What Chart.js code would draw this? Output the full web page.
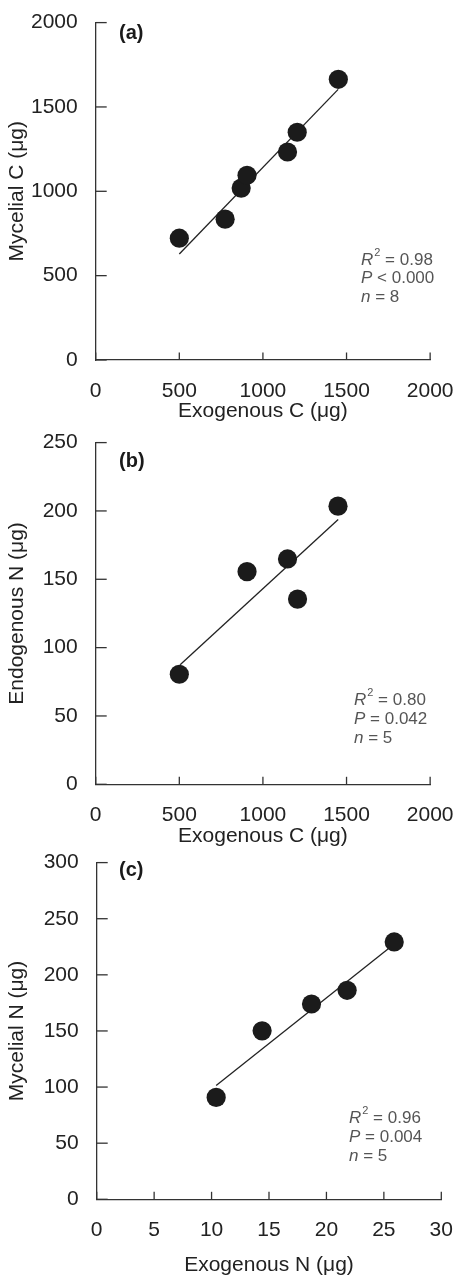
<!DOCTYPE html>
<html><head><meta charset="utf-8">
<script src="https://cdn.jsdelivr.net/npm/chart.js@4.4.1/dist/chart.umd.min.js"></script>
<style>
html,body{margin:0;padding:0;background:#fff;}
#wrap{position:relative;width:464px;height:1278px;overflow:hidden;background:#fff;}
canvas{position:absolute;left:0;}
</style></head><body>
<div id="wrap">
<canvas id="ca" width="464" height="430" style="top:0px"></canvas>
<canvas id="cb" width="464" height="430" style="top:420px"></canvas>
<canvas id="cc" width="464" height="438" style="top:840px"></canvas>
</div>
<script>
// ---- Panel (a): Mycelial C vs Exogenous C ----
const exoC_a = [500, 774, 870, 905, 1147, 1205, 1451];
const mycC_a = [722, 835, 1019, 1095, 1233, 1350, 1664];
const fitA_x = [500, 1450];
const fitA_y = [628, 1604];
const ticksA_x = [0, 500, 1000, 1500, 2000];
const ticksA_y = [0, 500, 1000, 1500, 2000];
const statsA = ['= 0.98', '< 0.000', '= 8'];

// ---- Panel (b): Endogenous N vs Exogenous C ----
const exoC_b = [500, 905, 1147, 1207, 1449];
const endoN_b = [80.5, 155.6, 164.9, 135.5, 203.5];
const fitB_x = [505, 1450];
const fitB_y = [87.5, 193.8];
const ticksB_x = [0, 500, 1000, 1500, 2000];
const ticksB_y = [0, 50, 100, 150, 200, 250];
const statsB = ['= 0.80', '= 0.042', '= 5'];

// ---- Panel (c): Mycelial N vs Exogenous N ----
const exoN_c = [10.4, 14.4, 18.7, 21.8, 25.9];
const mycN_c = [90.8, 150.1, 174.0, 186.2, 229.3];
const fitC_x = [10.4, 25.85];
const fitC_y = [101.3, 227.0];
const ticksC_x = [0, 5, 10, 15, 20, 25, 30];
const ticksC_y = [0, 50, 100, 150, 200, 250, 300];
const statsC = ['= 0.96', '= 0.004', '= 5'];

const FONT = '"Liberation Sans", Arial, Helvetica, sans-serif';
Chart.defaults.font.family = FONT;

const inwardTicks = {
  id: 'inwardTicks',
  afterDatasetsDraw(chart) {
    const {ctx, chartArea} = chart;
    const xs = chart.scales.x, ys = chart.scales.y;
    ctx.save();
    ctx.strokeStyle = '#333';
    ctx.lineWidth = 1.3;
    xs.ticks.forEach(t => {
      const px = xs.getPixelForValue(t.value);
      ctx.beginPath(); ctx.moveTo(px, chartArea.bottom); ctx.lineTo(px, chartArea.bottom - 7.5); ctx.stroke();
    });
    ys.ticks.forEach(t => {
      const py = ys.getPixelForValue(t.value);
      ctx.beginPath(); ctx.moveTo(chartArea.left, py); ctx.lineTo(chartArea.left + 11, py); ctx.stroke();
    });
    ctx.restore();
  }
};

const annot = {
  id: 'annot',
  afterDraw(chart, args, o) {
    const ctx = chart.ctx;
    ctx.save();
    ctx.textBaseline = 'middle';
    ctx.textAlign = 'left';
    ctx.fillStyle = '#1a1a1a';
    ctx.font = 'bold 20px ' + FONT;
    ctx.fillText(o.label, o.lx, o.ly);
    ctx.fillStyle = '#555';
    const italics = ['R', 'P', 'n'];
    o.stats.forEach((s, i) => {
      let x = o.sx, y = o.sy[i];
      ctx.font = 'italic 17px ' + FONT;
      ctx.fillText(italics[i], x, y);
      x += ctx.measureText(italics[i]).width;
      if (i === 0) {
        ctx.font = '11px ' + FONT;
        ctx.fillText('2', x + 1, y - 7);
        x += ctx.measureText('2').width + 1;
      }
      ctx.font = '17px ' + FONT;
      ctx.fillText(' ' + s, x, y);
    });
    ctx.restore();
  }
};

function makeChart(id, xs, ys, fx, fy, tx, ty, xTitle, yTitle, cfg) {
  const pts = xs.map((x, i) => ({x: x, y: ys[i]}));
  const fit = fx.map((x, i) => ({x: x, y: fy[i]}));
  return new Chart(document.getElementById(id), {
    type: 'scatter',
    data: {
      datasets: [
        {data: pts, pointRadius: 9.6, pointBackgroundColor: '#1b1b1b', pointBorderWidth: 0, showLine: false, order: 0},
        {data: fit, showLine: true, pointRadius: 0, borderColor: '#222', borderWidth: 1.3, fill: false, order: 1}
      ]
    },
    options: {
      responsive: false, animation: false, devicePixelRatio: 1, events: [],
      layout: {padding: {left: 0, right: cfg.right, top: cfg.top, bottom: 0}},
      plugins: {legend: {display: false}, tooltip: {enabled: false}, annot: cfg.annot},
      scales: {
        x: {
          type: 'linear', min: tx[0], max: tx[tx.length - 1],
          afterBuildTicks: s => { s.ticks = tx.map(v => ({value: v})); },
          afterFit: s => { s.height = cfg.xh; },
          grid: {display: false},
          border: {display: true, color: '#333', width: 1.3},
          ticks: {font: {size: 21}, color: '#222', padding: 10.5, autoSkip: false, maxRotation: 0, callback: v => String(v)},
          title: {display: true, text: xTitle, font: {size: 21}, color: '#222', padding: {top: 0, bottom: cfg.xtp}}
        },
        y: {
          type: 'linear', min: ty[0], max: ty[ty.length - 1],
          afterBuildTicks: s => { s.ticks = ty.map(v => ({value: v})); },
          afterFit: s => { s.width = cfg.yw; },
          grid: {display: false},
          border: {display: true, color: '#333', width: 1.3},
          ticks: {font: {size: 21}, color: '#222', padding: 10, autoSkip: false, callback: v => String(v)},
          title: {display: true, text: yTitle, font: {size: 21}, color: '#222', padding: {top: 5, bottom: 0}}
        }
      }
    },
    plugins: [inwardTicks, annot]
  });
}

makeChart('ca', exoC_a, mycC_a, fitA_x, fitA_y, ticksA_x, ticksA_y,
  'Exogenous C (\u03bcg)', 'Mycelial C (\u03bcg)',
  {right: 23.7, top: 17.3, xh: 70, xtp: 6.5, yw: 95.7,
   annot: {label: '(a)', lx: 119, ly: 33.3, stats: statsA, sx: 361, sy: [260, 278.5, 297]}});

makeChart('cb', exoC_b, endoN_b, fitB_x, fitB_y, ticksB_x, ticksB_y,
  'Exogenous C (\u03bcg)', 'Endogenous N (\u03bcg)',
  {right: 23.7, top: 21.7, xh: 65.7, xtp: 1.5, yw: 95.7,
   annot: {label: '(b)', lx: 119, ly: 41.7, stats: statsB, sx: 354, sy: [280, 299.3, 318.3]}});

makeChart('cc', exoN_c, mycN_c, fitC_x, fitC_y, ticksC_x, ticksC_y,
  'Exogenous N (\u03bcg)', 'Mycelial N (\u03bcg)',
  {right: 22.7, top: 15.7, xh: 78.7, xtp: 0, yw: 96.7,
   annot: {label: '(c)', lx: 119, ly: 30.7, stats: statsC, sx: 349, sy: [278.3, 297.3, 316]}});
</script>
</body></html>
